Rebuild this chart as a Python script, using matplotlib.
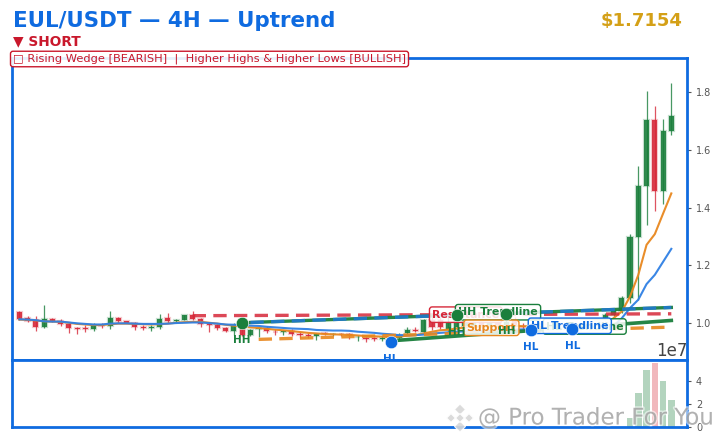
import matplotlib
matplotlib.use("Agg")
import matplotlib.pyplot as plt
import matplotlib.patheffects as pe
from matplotlib.patches import Polygon
from matplotlib.ticker import ScalarFormatter

BLUE = "#0f6be0"; GREEN = "#1a7f3c"; RED = "#d62839"; ORANGE = "#e8871e"; GOLD = "#d4a017"

opens = [1.039,1.016,1.010,.987,1.014,1.007,.997,.983,.983,.979,.993,.991,1.017,1.007,1.000,.986,.984,.987,1.017,1.008,
         1.010,1.028,1.014,.997,.993,.984,.973,.978,.958,.978,.984,.970,.969,.972,.962,.958,.955,.964,.961,.963,
         .961,.950,.949,.947,.945,.938,.949,.964,.976,.970,1.010,1.010,.975,.985,.990,.990,1.010,.985,1.000,.985,
         1.012,.990,.985,.995,.998,.992,.995,.985,.992,.996,1.000,1.012,1.029,1.040,1.086,1.299,1.475,1.702,1.458,1.665]
closes = [1.013,1.008,.987,1.013,1.007,.995,.984,.980,.981,.993,.990,1.016,1.007,1.000,.987,.983,.986,1.014,1.007,1.010,
          1.028,1.014,.997,.994,.983,.973,.992,.958,.976,.984,.973,.968,.972,.962,.960,.954,.962,.961,.963,.961,
          .957,.953,.945,.945,.949,.946,.958,.976,.973,1.010,.985,.987,1.000,1.015,1.012,1.005,.990,1.000,.985,1.005,
          .990,.985,.990,.998,.992,.995,.985,.992,.996,1.000,1.012,1.029,1.040,1.086,1.299,1.475,1.702,1.458,1.665,1.7154]
highs = [1.042,1.024,1.024,1.062,1.017,1.014,1.001,.988,.993,.999,1.001,1.042,1.022,1.008,1.003,.993,.993,1.031,1.035,1.015,
         1.028,1.042,1.016,1.001,.996,.986,.999,1.000,.978,.984,.990,.978,.976,.978,.968,.966,.964,.968,.967,.967,
         .967,.958,.953,.953,.958,.950,.966,.985,.985,1.013,1.033,1.020,1.020,1.028,1.020,1.018,1.020,1.012,1.010,1.030,
         1.020,1.000,1.000,1.005,1.004,1.000,1.000,.998,1.002,1.006,1.018,1.034,1.046,1.094,1.308,1.543,1.802,1.751,1.707,1.833]
lows = [1.010,1.002,.973,.984,1.002,.991,.967,.961,.969,.973,.984,.980,.999,.999,.976,.976,.974,.979,.999,1.001,
        1.010,1.010,.987,.968,.976,.970,.958,.955,.955,.952,.966,.958,.958,.956,.949,.949,.943,.957,.956,.955,
        .944,.939,.935,.938,.938,.934,.943,.960,.968,.966,.975,.980,.970,.975,.980,.980,.980,.980,.975,.980,
        .985,.975,.976,.985,.985,.985,.980,.978,.985,.990,.995,1.005,1.025,1.035,1.068,1.081,1.340,1.389,1.414,1.652]
sma = [1.013,1.012,1.010,1.006,1.005,1.005,1.002,.999,.997,.995,.995,.998,.999,.999,.998,.997,.997,.997,.998,1.000,
       1.001,1.002,1.002,1.000,.998,.995,.994,.993,.991,.990,.987,.985,.983,.981,.980,.979,.976,.975,.974,.974,
       .973,.970,.968,.966,.963,.961,.958,.958,.958,.960,.963,.966,.968,.970,.971,.972,.973,.974,.975,.976,
       .977,.978,.978,.978,.979,.979,.980,.980,.981,.981,.982,.984,.990,1.017,1.052,1.081,1.135,1.167,1.212,1.257]
ema = [1.012,1.011,1.009,1.006,1.005,1.004,1.001,.997,.995,.993,.993,.996,.998,.998,.997,.996,.995,.996,.998,1.001,
       1.003,1.004,1.004,1.001,.998,.994,.991,.988,.985,.983,.980,.977,.975,.972,.969,.966,.964,.962,.961,.960,
       .959,.957,.955,.954,.953,.951,.953,.956,.958,.964,.970,.975,.977,.981,.985,.987,.988,.989,.990,.990,
       .990,.989,.988,.987,.986,.985,.985,.985,.985,.985,.988,.994,1.017,1.040,1.092,1.167,1.271,1.308,1.379,1.449]
volume = [.02]*74 + [.75e0, 3.0, 5.0, 5.55, 4.0, 2.35]

resist_x = [21, 79]; resist_y = [1.0254, 1.032]
hh_x = [28, 79]; hh_y = [1.002, 1.054]
support_x = [29, 79]; support_y = [.9434, .986]
hl_x = [46, 79]; hl_y = [.9405, 1.009]
hh_idx = [27, 53, 59]; hh_val = [1.000, 1.028, 1.030]
hl_idx = [45, 62, 67]; hl_val = [.934, .976, .978]
yticks = [1.0, 1.2, 1.4, 1.6, 1.8]

fig = plt.figure(figsize=(7.24, 4.43), dpi=100)
W, H = 724, 443
ax = fig.add_axes([12/W, 1-360/H, 675/W, 302/H])
av = fig.add_axes([12/W, 1-427/H, 675/W, 67/H], sharex=ax)

xs = list(range(len(opens)))
bottoms = [min(o, c) for o, c in zip(opens, closes)]
heights = [abs(o-c) for o, c in zip(opens, closes)]
cols = [GREEN if c >= o else RED for o, c in zip(opens, closes)]

ax.vlines(xs, lows, highs, colors=cols, lw=0.9, alpha=.8, zorder=2)
ax.bar(xs, heights, bottom=bottoms, width=0.62, color=[c+"e6" for c in cols],
       edgecolor=[c+"40" for c in cols], lw=1.6, zorder=3)

ax.plot(xs, ema, color=ORANGE, lw=1.5, alpha=.95, zorder=4)
ax.plot(xs, sma, color="#2f80e4", lw=1.5, alpha=.95, zorder=4)

ax.plot(resist_x, resist_y, color=RED, lw=2.4, ls=(0, (4, 2.2)), alpha=.85, zorder=5)
ax.plot(hh_x, hh_y, color=GREEN, lw=2.4, alpha=.95, zorder=5)
ax.plot(hh_x, hh_y, color="#1f78d8", lw=2.4, ls=(0, (4, 2.2)), alpha=.85, zorder=5)
ax.plot(support_x, support_y, color=ORANGE, lw=2.4, ls=(0, (4, 2.2)), alpha=.9, zorder=5)
ax.plot(hl_x, hl_y, color=GREEN, lw=2.6, alpha=.95, zorder=5)

def box(x, y, s, c):
    ax.text(x, y, s, color=c, fontsize=7.9, fontweight="bold", ha="center", va="center", zorder=6,
            bbox=dict(boxstyle="round,pad=0.25", fc=(1, 1, 1, .85), ec=c, lw=1.0))

box(54.1, 1.029, "Resistance", RED)
box(58.0, 1.0375, "HH Trendline", GREEN)
box(57.2, .9835, "Support", ORANGE)
box(68.5, .9880, "HL Trendline", GREEN)
box(66.7, .9905, "HL Trendline", BLUE)

ax.scatter(hh_idx, hh_val, s=80, color=GREEN, zorder=8, edgecolor="white", lw=.4)
ax.scatter(hl_idx, hl_val, s=80, color=BLUE, zorder=8, edgecolor="white", lw=.4)
for i, v in zip(hh_idx, hh_val):
    ax.annotate("HH", (i, v), xytext=(0, -12), textcoords="offset points", ha="center", va="center",
                color=GREEN, fontsize=7.5, fontweight="bold", zorder=8)
for i, v in zip(hl_idx, hl_val):
    ax.annotate("HL", (i, v), xytext=(0, -12), textcoords="offset points", ha="center", va="center",
                color=BLUE, fontsize=7.5, fontweight="bold", zorder=8, annotation_clip=False)

ax.set_xlim(-0.89, 80.9)
ax.set_ylim(.872, 1.918)
ax.set_yticks(yticks)
ax.yaxis.tick_right()
ax.tick_params(axis="y", labelsize=7, colors="#555555", length=3, width=.8)
ax.tick_params(axis="x", which="both", bottom=False, labelbottom=False)

av.bar(xs, [v*1e7 for v in volume], width=0.8, color=cols, alpha=.33)
av.set_ylim(0, 5.83e7)
av.set_yticks([0, 2e7, 4e7])
av.yaxis.tick_right()
av.yaxis.set_major_formatter(ScalarFormatter(useMathText=False))
av.tick_params(axis="y", labelsize=7, colors="#555555", length=3, width=.8)
av.tick_params(axis="x", which="both", bottom=False, labelbottom=False)
av.yaxis.get_offset_text().set_size(12)
av.yaxis.get_offset_text().set_color("#444444")

for a in (ax, av):
    for s in a.spines.values():
        s.set_color(BLUE); s.set_linewidth(2.0)

fig.text(13/W, 1-21/H, "EUL/USDT — 4H — Uptrend", color=BLUE, fontsize=15.4, fontweight="bold", va="center")
fig.text(683/W, 1-21/H, "$1.7154", color=GOLD, fontsize=13, fontweight="bold", va="center", ha="right")
fig.text(13/W, 1-41/H, "▼ SHORT", color="#c9182c", fontsize=9.9, fontweight="bold", va="center")
fig.text(13/W, 1-59/H, "□ Rising Wedge [BEARISH]  |  Higher Highs & Higher Lows [BULLISH]", color="#c9182c",
         fontsize=8.2, va="center", zorder=5,
         bbox=dict(boxstyle="round,pad=0.22", fc=(1, 1, 1, .9), ec="#c9182c", lw=1.0))

fig.text(478/W, 1-418/H, "@ Pro Trader For You", color="#8a8a8a", alpha=.55, fontsize=16.5, va="center", zorder=10,
         path_effects=[pe.withStroke(linewidth=2.2, foreground="white")])
cx, cy, d = 460, 418, 5.5
for dx, dy, r in [(0, -8.5, d), (-9, 0, d*.8), (9, 0, d*.8), (0, 8.5, d), (0, 0, d*.8)]:
    pts = [((cx+dx+u)/W, 1-(cy+dy+v)/H) for u, v in [(0, -r), (r, 0), (0, r), (-r, 0)]]
    fig.add_artist(Polygon(pts, closed=True, transform=fig.transFigure, fc="#d8d8d8", ec="white", lw=.8, alpha=.9, zorder=10))

fig.savefig("out.png", dpi=100)
